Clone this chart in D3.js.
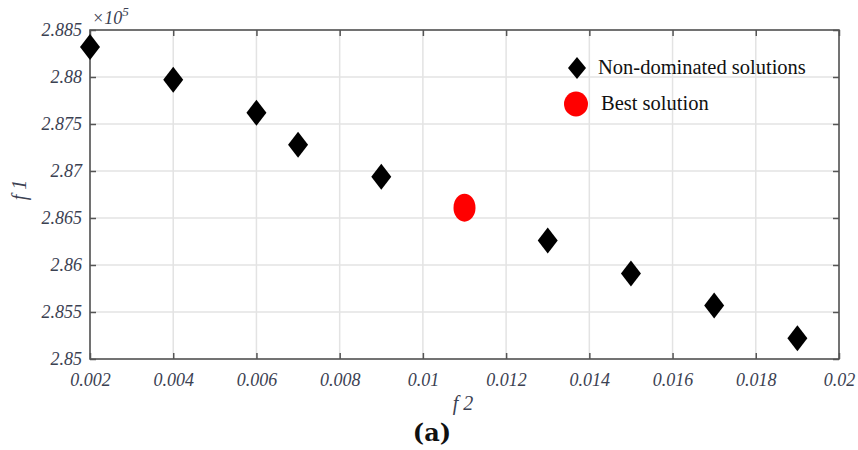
<!doctype html>
<html>
<head>
<style>
  body { margin: 0; background: #fff; }
  .grid line { stroke: #e3e3e3; stroke-width: 1.5; }
</style>
<script src="https://cdn.jsdelivr.net/npm/d3@7"></script>
</head>
<body>
<svg width="858" height="450"></svg>
<script>
// f2 values of the Pareto front
var f2 = [0.002, 0.004, 0.006, 0.007, 0.009, 0.013, 0.015, 0.017, 0.019]
// f1 values (x10^5)
var f1 = [2.8832, 2.8797, 2.8762, 2.8728, 2.8694, 2.8626, 2.8591, 2.8557, 2.8522]
var bestF2 = [0.011]
var bestF1 = [2.8661]
var xTicks = [0.002, 0.004, 0.006, 0.008, 0.01, 0.012, 0.014, 0.016, 0.018, 0.02]
var yTicks = [2.85, 2.855, 2.86, 2.865, 2.87, 2.875, 2.88, 2.885]
var legendNames = ["Non-dominated solutions", "Best solution"]

var serif = "'Liberation Serif', 'Times New Roman', serif"
var svg = d3.select("svg")
var m = {left: 90, top: 30, right: 19, bottom: 91}
var w = 858 - m.left - m.right, h = 450 - m.top - m.bottom

var x = d3.scaleLinear().domain([0.002, 0.02]).range([0, w])
var y = d3.scaleLinear().domain([2.85, 2.885]).range([h, 0])

var g = svg.append("g").attr("transform", "translate(" + m.left + "," + m.top + ")")

// grid
g.append("g").attr("class", "grid").selectAll("line").data(xTicks.slice(1, -1)).enter().append("line")
  .attr("x1", d => x(d)).attr("x2", d => x(d)).attr("y1", 0).attr("y2", h)
g.append("g").attr("class", "grid").selectAll("line").data(yTicks.slice(1, -1)).enter().append("line")
  .attr("y1", d => y(d)).attr("y2", d => y(d)).attr("x1", 0).attr("x2", w)

// box
g.append("rect").attr("width", w).attr("height", h).attr("fill", "none").attr("stroke", "#444").attr("stroke-width", 1.5)

var fmt = d => String(+d.toFixed(4))

g.append("g").attr("transform", "translate(0," + h + ")")
  .call(d3.axisBottom(x).tickValues(xTicks).tickFormat(fmt).tickSizeInner(-6).tickSizeOuter(0).tickPadding(14))
g.append("g")
  .call(d3.axisLeft(y).tickValues(yTicks).tickFormat(fmt).tickSizeInner(-6).tickSizeOuter(0).tickPadding(8))
g.append("g")
  .call(d3.axisTop(x).tickValues(xTicks).tickFormat("").tickSizeInner(-6).tickSizeOuter(0))
g.append("g").attr("transform", "translate(" + w + ",0)")
  .call(d3.axisRight(y).tickValues(yTicks).tickFormat("").tickSizeInner(-6).tickSizeOuter(0))
g.selectAll(".domain").remove()
g.selectAll(".tick line").attr("stroke", "#555").attr("stroke-width", 1.5)
g.selectAll(".tick text")
  .style("font-family", serif).style("font-style", "italic").style("font-size", "18px").style("fill", "#3b4152")

// exponent
svg.append("text").attr("x", m.left + 2).attr("y", 24)
  .style("font-family", serif).style("font-style", "italic").style("font-size", "18px").style("fill", "#3b4152")
  .text("\u00d710").append("tspan").attr("dy", -8).style("font-size", "13px").text("5")

// diamonds
var diamond = "M0,-13 L10,0 L0,13 L-10,0 Z"
g.selectAll(".pt").data(f2).enter().append("path").attr("class", "pt")
  .attr("d", diamond).attr("fill", "#000")
  .attr("transform", (d, i) => "translate(" + x(d) + "," + y(f1[i]) + ")")

g.selectAll(".best").data(bestF2).enter().append("ellipse").attr("class", "best")
  .attr("cx", d => x(d)).attr("cy", (d, i) => y(bestF1[i]))
  .attr("rx", 11).attr("ry", 14).attr("fill", "#ff0000")

// legend
var lg = svg.append("g")
lg.append("path").attr("d", "M0,-11 L9,0 L0,11 L-9,0 Z").attr("transform", "translate(577,68)")
lg.append("ellipse").attr("cx", 576).attr("cy", 104).attr("rx", 12).attr("ry", 12.5).attr("fill", "#ff0000")
lg.selectAll("text").data(legendNames).enter().append("text")
  .attr("x", (d, i) => i ? 601 : 598).attr("y", (d, i) => i ? 110 : 74)
  .style("font-family", serif).style("font-size", "20.5px").style("fill", "#111")
  .text(d => d)

// labels
svg.append("text").attr("x", 463).attr("y", 410).attr("text-anchor", "middle")
  .style("font-family", serif).style("font-style", "italic").style("font-size", "20px").style("fill", "#3b4152")
  .text("f 2")
svg.append("text").attr("transform", "translate(26,190) rotate(-90)").attr("text-anchor", "middle")
  .style("font-family", serif).style("font-style", "italic").style("font-size", "20px").style("fill", "#3b4152")
  .text("f 1")
svg.append("text").attr("x", 432).attr("y", 441).attr("text-anchor", "middle")
  .style("font-family", "'DejaVu Serif', serif").style("font-weight", "bold").style("font-size", "24px").style("fill", "#111")
  .text("(a)")
</script>
</body>
</html>
